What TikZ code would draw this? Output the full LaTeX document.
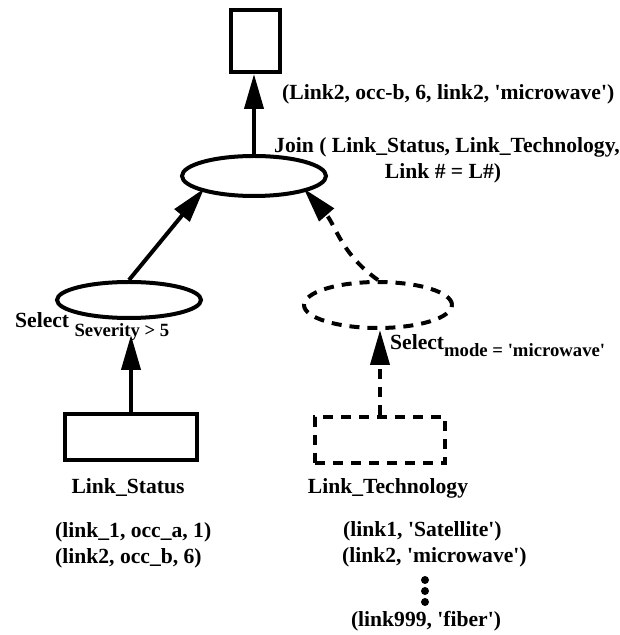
\documentclass[tikz,border=0pt]{standalone}
\usepackage{fontspec}
\setmainfont{Liberation Serif}
\usetikzlibrary{arrows.meta,shapes.geometric}
\newcommand{\sq}{\textquotesingle}
\newcommand{\subfnt}{\fontsize{18.7}{22}\selectfont}
\tikzset{
  obj/.style={draw, line width=4pt, inner sep=0pt},
  relbox/.style={obj, rectangle},
  opnode/.style={obj, ellipse},
  dashedline/.style={dash pattern=on 10pt off 8pt},
  arr/.style={line width=4pt, -{Triangle[length=35pt,width=19pt]}},
  lbl/.style={inner sep=0pt, font=\bfseries\fontsize{21.6}{26}\selectfont},
  dotmark/.style={circle, fill, inner sep=0pt, minimum size=8pt},
}
\begin{document}
\begin{tikzpicture}[x=1pt,y=1pt]
\useasboundingbox (0,0) rectangle (619,635);
% relations and operators
\node[relbox, minimum width=49pt, minimum height=62pt] (res) at (255.5,594) {};
\node[opnode, minimum width=144pt, minimum height=40pt] (join) at (254,459) {};
\node[opnode, minimum width=144pt, minimum height=36pt] (sel1) at (129,335) {};
\node[opnode, dashedline, minimum width=148pt, minimum height=46pt] (sel2) at (378,330) {};
\node[relbox, minimum width=132pt, minimum height=46pt] (ls) at (131,198) {};
\node[relbox, dashedline, minimum width=130pt, minimum height=46pt] (lt) at (380,195) {};
% connectors
\draw[arr] (join.north) -- (join.north |- res.south);
\draw[arr, shorten >=-4pt] (sel1.north) -- (join.south west);
\draw[arr, dashedline, shorten >=-4pt] (sel2.north) to[out=145,in=-49] (join.south east);
\draw[arr, shorten >=15pt] (ls.north) -- (ls.north |- sel1.south);
\draw[arr, dashedline] (lt.north) -- (lt.north |- sel2.south);
% labels
\node[lbl, anchor=base west] (restxt) at (282,535) {(Link2, occ-b, 6, link2, \sq microwave\sq)};
\node[lbl, anchor=base] (jl1) at (447,482) {Join ( Link\_Status, Link\_Technology,};
\node[lbl, anchor=base] (jl2) at (443,456) {Link \# = L\#)};
\node[lbl, anchor=base west] (s1lbl) at (15,307) {Select \raisebox{-9pt}{\subfnt Severity > 5}};
\node[lbl, anchor=base west] (s2lbl) at (390,285) {Select\raisebox{-7pt}{\subfnt mode = \sq microwave\sq}};
\node[lbl, anchor=base] (lsname) at (128,141) {Link\_Status};
\node[lbl, anchor=base] (ltname) at (388,141) {Link\_Technology};
\node[lbl, anchor=base west] (ls1) at (55,97) {(link\_1, occ\_a, 1)};
\node[lbl, anchor=base west] (ls2) at (55,71) {(link2, occ\_b, 6)};
\node[lbl, anchor=base west] (lt1) at (343,98) {(link1, \sq Satellite\sq)};
\node[lbl, anchor=base west] (lt2) at (342,72) {(link2, \sq microwave\sq)};
\node[dotmark] (d1) at (425,55) {};
\node[dotmark] (d2) at (425,44) {};
\node[dotmark] (d3) at (425,33) {};
\node[lbl, anchor=base] (lt3) at (426,9) {(link999, \sq fiber\sq)};
\end{tikzpicture}
\end{document}
